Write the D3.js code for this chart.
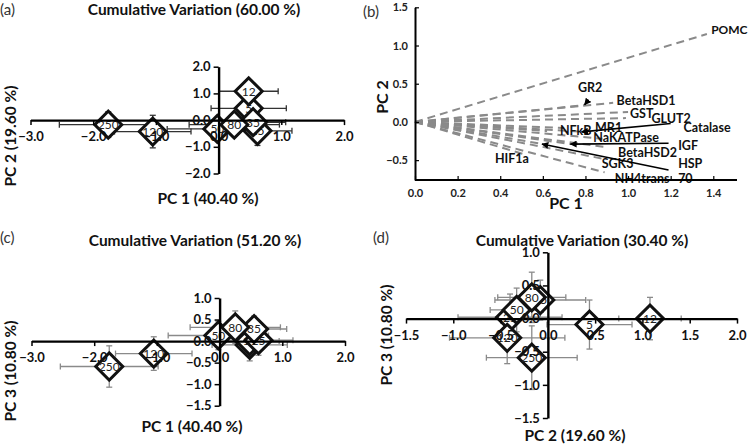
<!DOCTYPE html>
<html><head><meta charset="utf-8">
<script src="https://cdn.jsdelivr.net/npm/d3@7"></script>
<style>
body{margin:0;background:#fff;}
svg{display:block;}
text{font-family:Lato,"Open Sans",sans-serif;}
</style></head><body>
<svg id="chart" width="750" height="446"></svg>
<script>
// ---------- Score-plot data (groups) ----------
const groups = ["5","12","25","35","50","80","120","250"];
const pc1    = [0.48, 0.48, 0.62, 0.55, -0.02, 0.25, -1.05, -1.76];
const pc2    = [0.44, 1.08, -0.40, -0.08, -0.33, -0.17, -0.43, -0.17];
const pc3    = [-0.09, 0.00, 0.02, 0.28, 0.13, 0.32, -0.29, -0.59];
const pc1Err = [0.60, 0.47, 0.55, 0.52, 0.80, 0.72, 0.61, 0.78];
const pc2Err = [0.45, 0.33, 0.55, 0.48, 0.28, 0.36, 0.61, 0.48];
const pc3Err = [0.37, 0.32, 0.35, 0.30, 0.33, 0.38, 0.39, 0.48];

// ---------- Loading-plot data ----------
const loadNames = ["POMC","GR2","BetaHSD1","GST","GLUT2","Catalase","MR1","NFkB","NaKATPase","IGF","BetaHSD2","HSP70","SGK3","NH4trans","HIF1a"];
const loadPC1   = [1.37, 0.80, 0.93, 1.00, 0.99, 0.79, 0.70, 0.62, 0.88, 0.73, 0.90, 0.60, 0.88, 0.89, 0.52];
const loadPC2   = [1.15, 0.22, 0.25, 0.13, 0.05, -0.13, -0.08, -0.12, -0.22, -0.29, -0.33, -0.29, -0.48, -0.66, -0.43];
const labelText = ["POMC","GR2","BetaHSD1","GST","GLUT2","Catalase","MR1","NFkB","NaKATPase","IGF","BetaHSD2","HSP","70","SGK3","NH4trans","HIF1a"];
const labelPC1  = [1.39, 0.765, 0.946, 1.009, 1.11, 1.26, 0.845, 0.68, 0.837, 1.235, 0.953, 1.235, 1.235, 0.876, 0.938, 0.375];
const labelPC2  = [1.15, 0.39, 0.22, 0.05, -0.01, -0.127, -0.127, -0.17, -0.265, -0.37, -0.455, -0.605, -0.80, -0.605, -0.80, -0.54];
const arrowFromPC1 = [0.815, 1.20, 1.19, 1.19];
const arrowFromPC2 = [0.29, -0.02, -0.28, -0.63];
const arrowToPC1   = [0.796, 0.782, 0.729, 0.596];
const arrowToPC2   = [0.224, -0.13, -0.29, -0.29];

// ---------- Tick values & titles ----------
const ticksPC1 = [-3, -2, -1, 0, 1, 2];
const ticksPC2a = [-2, -1, 0, 1, 2];
const ticksPC3 = [-1.5, -1, -0.5, 0, 0.5, 1];
const ticksPC2d = [-1.5, -1, -0.5, 0, 0.5, 1, 1.5, 2];
const ticksLoadX = [0, 0.2, 0.4, 0.6, 0.8, 1.0, 1.2, 1.4];
const ticksLoadY = [-0.5, 0, 0.5, 1.0, 1.5];

const svg = d3.select("#chart");
const fmt = d3.format(".1f");

function scatterPanel(o){
  const g = svg.append("g");
  // error bars
  const eb = g.append("g").attr("stroke", o.errColor).attr("stroke-width", 1.3);
  groups.forEach((name, i) => {
    const cx = o.x(o.xv[i]), cy = o.y(o.yv[i]);
    const xl = o.x(o.xv[i] - o.xe[i]), xr = o.x(o.xv[i] + o.xe[i]);
    const yt = o.y(o.yv[i] + o.ye[i]), yb = o.y(o.yv[i] - o.ye[i]);
    eb.append("line").attr("x1", xl).attr("x2", xr).attr("y1", cy).attr("y2", cy);
    eb.append("line").attr("x1", xl).attr("x2", xl).attr("y1", cy - 3).attr("y2", cy + 3);
    eb.append("line").attr("x1", xr).attr("x2", xr).attr("y1", cy - 3).attr("y2", cy + 3);
    eb.append("line").attr("x1", cx).attr("x2", cx).attr("y1", yt).attr("y2", yb);
    eb.append("line").attr("x1", cx - 3).attr("x2", cx + 3).attr("y1", yt).attr("y2", yt);
    eb.append("line").attr("x1", cx - 3).attr("x2", cx + 3).attr("y1", yb).attr("y2", yb);
  });
  // markers + labels
  const sym = d3.symbol(d3.symbolSquare, 365);
  groups.forEach((name, i) => {
    const cx = o.x(o.xv[i]), cy = o.y(o.yv[i]);
    g.append("path").attr("d", sym()).attr("transform", `translate(${cx},${cy}) rotate(45)`)
      .attr("fill", "#fff").attr("stroke", "#111").attr("stroke-width", 3);
    g.append("text").attr("x", cx).attr("y", cy + 4.3).attr("text-anchor", "middle")
      .attr("font-size", 12).attr("fill", "#222").text(name);
  });
  // axes (crossing at zero)
  const xa = g.append("g").attr("transform", `translate(0,${o.y(0)})`)
    .call(d3.axisBottom(o.x).tickValues(o.xt).tickFormat(fmt).tickSize(5).tickSizeOuter(0));
  const ya = g.append("g").attr("transform", `translate(${o.x(0)},0)`)
    .call(d3.axisLeft(o.y).tickValues(o.yt).tickFormat(fmt).tickSize(5).tickSizeOuter(0));
  [xa, ya].forEach(a => {
    a.select(".domain").attr("stroke", "#000").attr("stroke-width", 2.4);
    a.selectAll(".tick line").attr("stroke", "#000").attr("stroke-width", 1.5);
    a.selectAll("text").attr("font-family", "Lato, sans-serif").attr("font-weight", "bold")
      .attr("font-size", 13).attr("fill", "#111");
  });
  xa.selectAll("text").attr("y", 21).attr("dy", null);
  ya.selectAll("text").attr("x", -8);
  // titles
  svg.append("text").attr("x", o.titleX).attr("y", o.titleY).attr("text-anchor", "middle")
    .attr("font-weight", "bold").attr("font-size", 15.5).attr("fill", "#111").text(o.title);
  svg.append("text").attr("x", o.xTitleX).attr("y", o.xTitleY).attr("text-anchor", "middle")
    .attr("font-weight", "bold").attr("font-size", 15.5).attr("fill", "#111").text(o.xTitle);
  svg.append("text").attr("transform", `translate(${o.yTitleX},${o.yTitleY}) rotate(-90)`).attr("text-anchor", "middle")
    .attr("font-weight", "bold").attr("font-size", 15.5).attr("fill", "#111").text(o.yTitle);
  svg.append("text").attr("x", o.letterX).attr("y", o.letterY)
    .attr("font-family", "'Liberation Sans', Arial, sans-serif").attr("font-size", 15).attr("fill", "#333").text(o.letter);
}

// Panel (a)
scatterPanel({
  x: d3.scaleLinear([-3, 2], [30.5, 344]), y: d3.scaleLinear([-2, 2], [173.5, 66.7]),
  xv: pc1, yv: pc2, xe: pc1Err, ye: pc2Err, xt: ticksPC1, yt: ticksPC2a, errColor: "#333",
  title: "Cumulative Variation (60.00 %)", titleX: 194, titleY: 15,
  xTitle: "PC 1 (40.40 %)", xTitleX: 208, xTitleY: 204,
  yTitle: "PC 2 (19.60 %)", yTitleX: 16, yTitleY: 136,
  letter: "(a)", letterX: 0, letterY: 15
});
// Panel (c)
scatterPanel({
  x: d3.scaleLinear([-3, 2], [31.5, 345]), y: d3.scaleLinear([-1.5, 1], [405.7, 298]),
  xv: pc1, yv: pc3, xe: pc1Err, ye: pc3Err, xt: ticksPC1, yt: ticksPC3, errColor: "#8a8a8a",
  title: "Cumulative Variation (51.20 %)", titleX: 195, titleY: 246,
  xTitle: "PC 1 (40.40 %)", xTitleX: 192, xTitleY: 432,
  yTitle: "PC 3 (10.80 %)", yTitleX: 16, yTitleY: 371,
  letter: "(c)", letterX: 0, letterY: 243
});
// Panel (d)
scatterPanel({
  x: d3.scaleLinear([-1.5, 2], [406, 737]), y: d3.scaleLinear([-1.5, 1], [418, 252.3]),
  xv: pc2, yv: pc3, xe: pc2Err, ye: pc3Err, xt: ticksPC2d, yt: ticksPC3, errColor: "#8a8a8a",
  title: "Cumulative Variation (30.40 %)", titleX: 582, titleY: 246,
  xTitle: "PC 2 (19.60 %)", xTitleX: 575, xTitleY: 441,
  yTitle: "PC 3 (10.80 %)", yTitleX: 392, yTitleY: 335,
  letter: "(d)", letterX: 373, letterY: 243
});

// Panel (b) loading plot
(function(){
  const x = d3.scaleLinear([0, 1.5], [415, 734.6]);
  const y = d3.scaleLinear([-0.76, 1.5], [180, 7.3]);
  const g = svg.append("g");
  const defs = svg.append("defs");
  defs.append("marker").attr("id", "ah").attr("viewBox", "0 0 10 10").attr("refX", 9).attr("refY", 5)
    .attr("markerWidth", 7).attr("markerHeight", 7).attr("orient", "auto-start-reverse").attr("markerUnits", "userSpaceOnUse")
    .append("path").attr("d", "M0,0 L10,5 L0,10 z").attr("fill", "#000");
  loadNames.forEach((n, i) => {
    g.append("line").attr("x1", x(0)).attr("y1", y(0)).attr("x2", x(loadPC1[i])).attr("y2", y(loadPC2[i]))
      .attr("stroke", "#8a8a8a").attr("stroke-width", 2).attr("stroke-dasharray", "8,5");
  });
  labelText.forEach((t, i) => {
    g.append("text").attr("x", x(labelPC1[i])).attr("y", y(labelPC2[i]))
      .attr("font-weight", "bold").attr("font-size", i === 0 ? 12 : 12.5).attr("fill", "#111").text(t);
  });
  arrowFromPC1.forEach((v, i) => {
    g.append("line").attr("x1", x(v)).attr("y1", y(arrowFromPC2[i])).attr("x2", x(arrowToPC1[i])).attr("y2", y(arrowToPC2[i]))
      .attr("stroke", "#000").attr("stroke-width", 1.6).attr("marker-end", "url(#ah)");
  });
  const xa = g.append("g").attr("transform", `translate(0,${y.range()[0]})`)
    .call(d3.axisBottom(x).tickValues(ticksLoadX).tickFormat(fmt).tickSize(-4).tickSizeOuter(0));
  const ya = g.append("g").attr("transform", `translate(${x(0)},0)`)
    .call(d3.axisLeft(y).tickValues(ticksLoadY).tickFormat(fmt).tickSize(-4).tickSizeOuter(0));
  xa.select(".domain").attr("d", `M${x(0)},0H737`);
  [xa, ya].forEach(a => {
    a.select(".domain").attr("stroke", "#000").attr("stroke-width", 2);
    a.selectAll(".tick line").attr("stroke", "#000").attr("stroke-width", 1.2);
    a.selectAll("text").attr("font-family", "'Liberation Sans', Arial, sans-serif").attr("font-weight", "bold")
      .attr("font-size", 11).attr("fill", "#222");
  });
  xa.selectAll("text").attr("y", 17).attr("dy", null);
  ya.selectAll("text").attr("x", -7);
  svg.append("text").attr("x", 566).attr("y", 209).attr("text-anchor", "middle")
    .attr("font-weight", "bold").attr("font-size", 16).attr("fill", "#111").text("PC 1");
  svg.append("text").attr("transform", "translate(388,97) rotate(-90)").attr("text-anchor", "middle")
    .attr("font-weight", "bold").attr("font-size", 16).attr("fill", "#111").text("PC 2");
  svg.append("text").attr("x", 363).attr("y", 17)
    .attr("font-family", "'Liberation Sans', Arial, sans-serif").attr("font-size", 15).attr("fill", "#333").text("(b)");
})();
</script>
</body></html>
